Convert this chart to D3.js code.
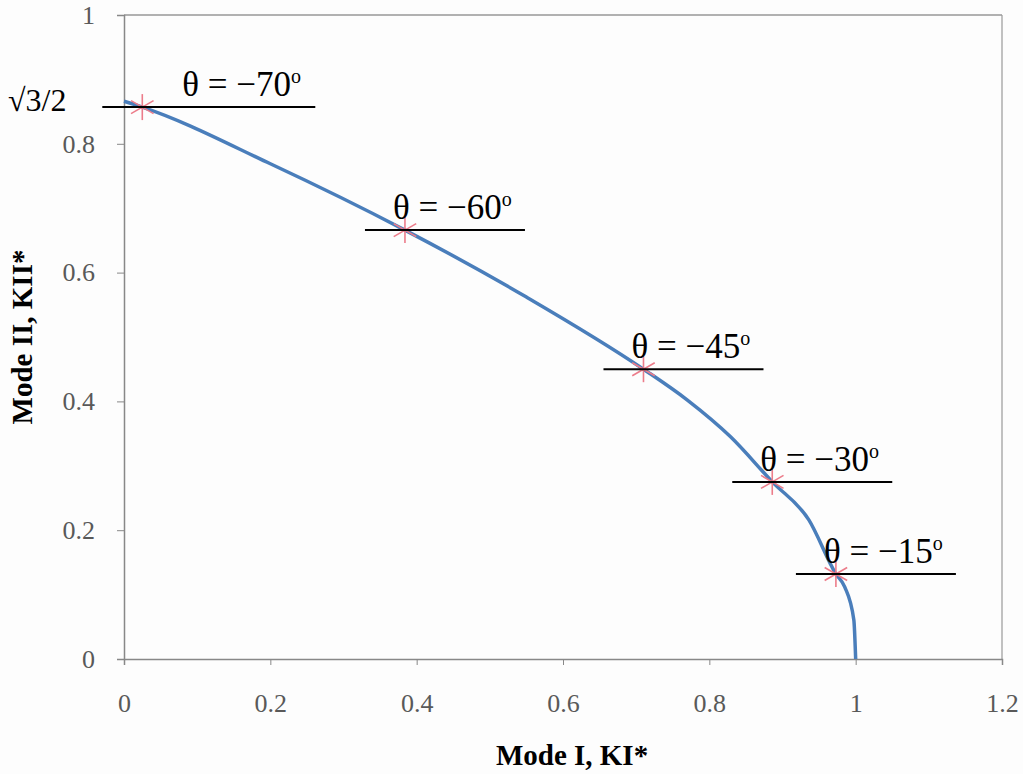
<!DOCTYPE html>
<html>
<head>
<meta charset="utf-8" />
<script src="https://d3js.org/d3.v7.min.js"></script>
<style>
  body { margin: 0; background: #fff; }
  .tick line { stroke: #888; }
  .axis path { stroke: #888; }
</style>
</head>
<body>
<svg width="1023" height="774"></svg>
<script>
// curve: mixed mode stress intensity factors
var curveKI  = [0, 0.025, 0.2, 0.384, 0.55, 0.71, 0.770, 0.829, 0.886, 0.936, 0.973, 0.985, 0.9975, 1.0];
var curveKII = [0.866, 0.857, 0.769, 0.666, 0.562, 0.450, 0.402, 0.345, 0.275, 0.216, 0.132, 0.112, 0.0606, 0.0];

// marked kink angles
var angles    = [-70, -60, -45, -30, -15];
var markerKI  = [0.025, 0.384, 0.710, 0.886, 0.973];
var markerKII = [0.857, 0.666, 0.450, 0.275, 0.132];

var xTicks = [0, 0.2, 0.4, 0.6, 0.8, 1, 1.2];
var yTicks = [0, 0.2, 0.4, 0.6, 0.8, 1];

var serif = "'Liberation Serif', 'Times New Roman', serif";

var svg = d3.select("svg"),
    margin = {top: 15, right: 21, bottom: 115, left: 124},
    width = +svg.attr("width") - margin.left - margin.right,
    height = +svg.attr("height") - margin.top - margin.bottom;

svg.append("rect").attr("width", "100%").attr("height", "100%").attr("fill", "#fdfdfd");

var x = d3.scaleLinear().domain([0, 1.2]).range([0, width]),
    y = d3.scaleLinear().domain([0, 1]).range([height, 0]);

var g = svg.append("g").attr("transform", "translate(" + margin.left + "," + margin.top + ")");

// frame top and right
g.append("line").attr("x1", 0).attr("x2", width).attr("y1", 0).attr("y2", 0)
  .attr("stroke", "#666").attr("stroke-width", 1.2);
g.append("line").attr("x1", width).attr("x2", width).attr("y1", 0).attr("y2", height)
  .attr("stroke", "#999").attr("stroke-width", 1.2);

function styleAxis(a) {
  a.attr("font-family", serif).attr("font-size", 26);
  a.select(".domain").attr("stroke-width", 1.5);
  a.selectAll(".tick text").attr("fill", "#595959");
}

g.append("g").attr("class", "axis")
  .attr("transform", "translate(0," + height + ")")
  .call(d3.axisBottom(x).tickValues(xTicks).tickSize(6).tickPadding(29).tickFormat(d3.format("")))
  .call(styleAxis);

g.append("g").attr("class", "axis")
  .call(d3.axisLeft(y).tickValues(yTicks).tickSize(7).tickPadding(22).tickFormat(d3.format("")))
  .call(styleAxis);

// axis titles
svg.append("text")
  .attr("x", 572).attr("y", 765)
  .attr("text-anchor", "middle")
  .style("font-family", serif).style("font-size", "29px").style("font-weight", "bold")
  .text("Mode I, KI*");

svg.append("text")
  .attr("transform", "translate(32," + (margin.top + y(0.5)) + ") rotate(-90)")
  .attr("text-anchor", "middle")
  .style("font-family", serif).style("font-size", "29px").style("font-weight", "bold")
  .text("Mode II, KII*");

// sqrt(3)/2 marker on y axis
svg.append("text")
  .attr("x", 8).attr("y", margin.top + y(Math.sqrt(3) / 2) + 10)
  .style("font-family", serif).style("font-size", "32px")
  .text("\u221A3/2");

// the curve
var curveData = curveKI.map(function(d, i) { return [d, curveKII[i]]; });
var line = d3.line()
  .x(function(d) { return x(d[0]); })
  .y(function(d) { return y(d[1]); })
  .curve(d3.curveMonotoneX);

g.append("path").datum(curveData)
  .attr("d", line)
  .attr("fill", "none")
  .attr("stroke", "#4a7ebb")
  .attr("stroke-width", 3.5);

// markers
var marks = angles.map(function(a, i) { return {a: a, ki: markerKI[i], kii: markerKII[i]}; });

var star = g.selectAll(".star").data(marks).enter().append("g")
  .attr("class", "star")
  .attr("transform", function(d) { return "translate(" + x(d.ki) + "," + y(d.kii) + ")"; });
[0, 60, 120].forEach(function(rot) {
  star.append("line")
    .attr("x1", 0).attr("y1", -13).attr("x2", 0).attr("y2", 13)
    .attr("transform", "rotate(" + (rot) + ")")
    .attr("stroke", "#ec7c8a").attr("stroke-width", 1.6);
});

// annotation lines and labels
var ann = g.selectAll(".ann").data(marks).enter().append("g").attr("class", "ann")
  .attr("transform", function(d) { return "translate(" + x(d.ki) + "," + y(d.kii) + ")"; });

ann.append("line")
  .attr("x1", -40)
  .attr("x2", function(d) { return d.a === -70 ? 173 : 120; })
  .attr("y1", 0).attr("y2", 0)
  .attr("stroke", "#000").attr("stroke-width", 2);

var lab = ann.append("text")
  .attr("x", function(d) { return d.a === -70 ? 40 : -12; })
  .attr("y", -11)
  .style("font-family", serif)
  .style("font-size", "35px");
lab.append("tspan").text(function(d) { return "\u03B8 = \u2212" + Math.abs(d.a); });
lab.append("tspan").attr("dy", -13).style("font-size", "20px").text("o");
</script>
</body>
</html>
